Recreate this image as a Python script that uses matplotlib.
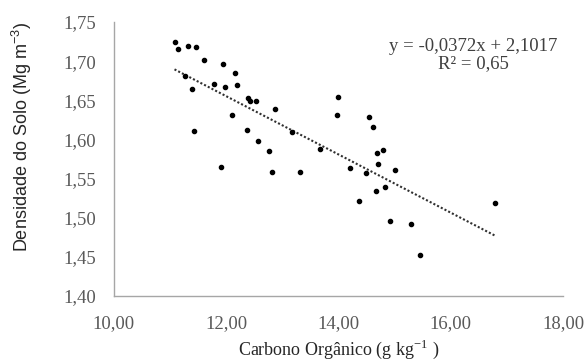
import matplotlib.pyplot as plt
import numpy as np

plt.rcParams['mathtext.fontset'] = 'custom'
plt.rcParams['mathtext.rm'] = 'Liberation Serif'
plt.rcParams['mathtext.sf'] = 'Liberation Sans'

# carbono organico (g/kg) vs densidade do solo (Mg/m3)
carbono = [11.08, 11.14, 11.32, 11.47, 11.60, 11.94, 12.16, 11.27, 11.79, 11.98,
           12.19, 11.39, 12.39, 12.42, 12.53, 12.87, 12.10, 13.17, 11.42, 12.38,
           12.57, 12.76, 13.68, 14.00, 13.97, 11.91, 12.82, 13.32, 14.54, 14.61,
           14.69, 14.79, 14.71, 14.20, 14.49, 15.00, 14.67, 14.83, 14.37, 14.91,
           15.30, 15.45, 16.79]
densidade = [1.725, 1.716, 1.719, 1.718, 1.702, 1.697, 1.685, 1.681, 1.671, 1.667,
             1.669, 1.665, 1.653, 1.649, 1.649, 1.639, 1.631, 1.609, 1.611, 1.612,
             1.598, 1.585, 1.588, 1.654, 1.631, 1.565, 1.558, 1.558, 1.629, 1.616,
             1.583, 1.586, 1.569, 1.563, 1.557, 1.561, 1.534, 1.539, 1.522, 1.496,
             1.492, 1.452, 1.519]

slope, intercept = -0.0372, 2.1017
xticks = [10, 12, 14, 16, 18]
yticks = [1.40, 1.45, 1.50, 1.55, 1.60, 1.65, 1.70, 1.75]

fig = plt.figure(figsize=(5.84, 3.61), dpi=100)
ax = fig.add_axes([0.195, 0.18, 0.769, 0.759])

ax.scatter(carbono, densidade, s=9, color='black', zorder=3)
xl = np.array([min(carbono), max(carbono)])
ax.plot(xl, slope * xl + intercept, color='#303030', linestyle=(0, (1, 1)), linewidth=1.5)

ax.set_xlim(10, 18)
ax.set_ylim(1.40, 1.75)
ax.set_xticks(xticks)
ax.set_yticks(yticks)
ax.set_xticklabels([f"{v:.2f}".replace('.', ',') for v in xticks])
ax.set_yticklabels([f"{v:.2f}".replace('.', ',') for v in yticks])
ax.tick_params(length=0, labelsize=13.5, labelcolor='#595959')
ax.tick_params(axis='y', pad=13)
ax.tick_params(axis='x', pad=14)
for lab in ax.get_xticklabels() + ax.get_yticklabels():
    lab.set_fontfamily('Liberation Serif')

for s in ['top', 'right']:
    ax.spines[s].set_visible(False)
for s in ['left', 'bottom']:
    ax.spines[s].set_color('#a6a6a6')
    ax.spines[s].set_linewidth(1)

ax.set_xlabel(r"Carbono Orgânico (g kg$^{-1}$ )", family='Liberation Serif',
              fontsize=13, color='#262626')
ax.xaxis.set_label_coords(0.5, -0.152)
ax.set_ylabel(r"Densidade do Solo (Mg m$^{\mathsf{-3}}$)", family='Liberation Sans',
              fontsize=13, color='#262626')
ax.yaxis.set_label_coords(-0.178, 0.58)

ax.text(0.80, 0.88, "y = -0,0372x + 2,1017\nR² = 0,65", transform=ax.transAxes,
        ha='center', va='center', family='Liberation Serif', fontsize=13.5,
        color='#404040', linespacing=1.05)

fig.savefig('out.png', dpi=100)
